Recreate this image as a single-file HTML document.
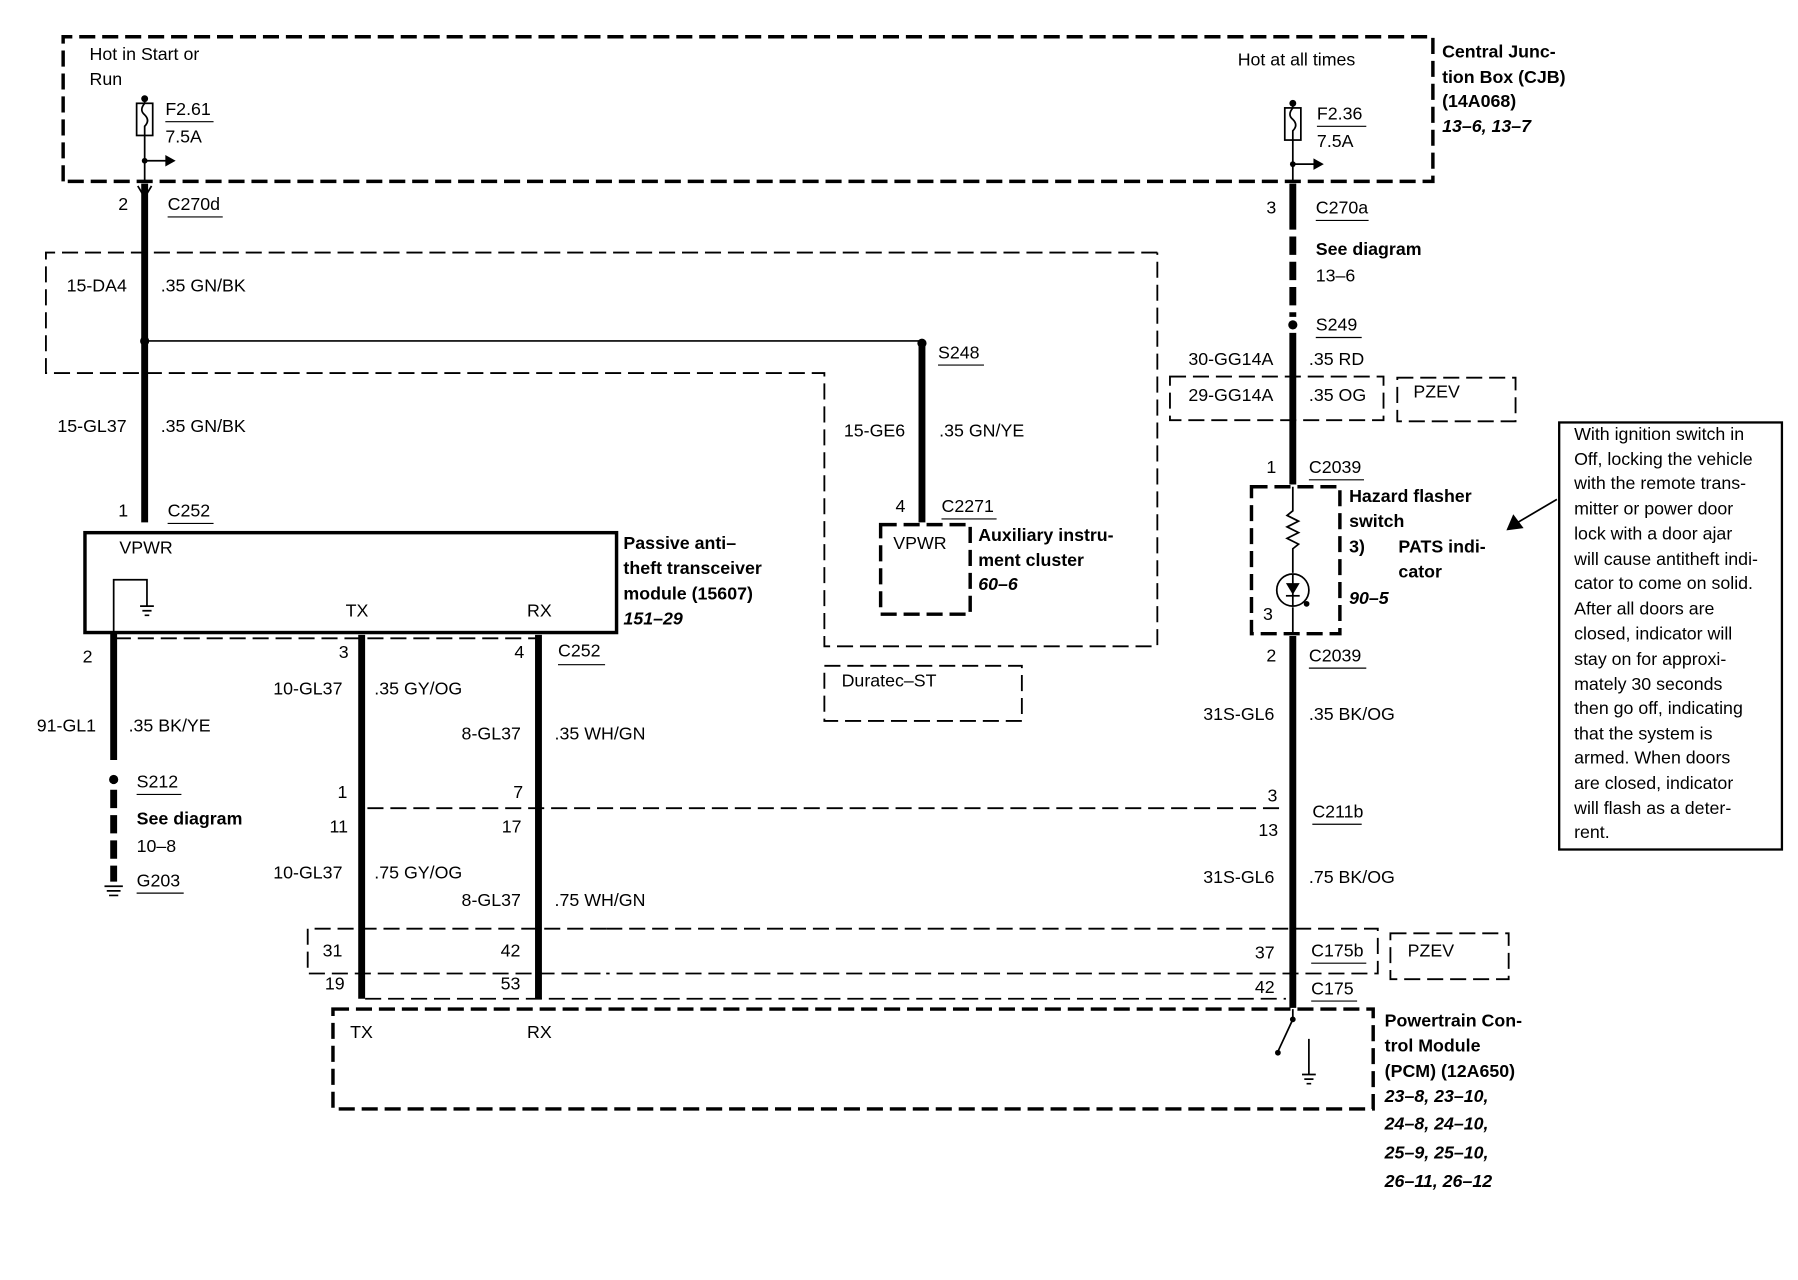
<!DOCTYPE html>
<html><head><meta charset="utf-8"><style>
html,body{margin:0;padding:0;background:#fff}
svg{display:block}
text{font-family:"Liberation Sans",Arial,sans-serif;font-size:15.5px;fill:#000;dominant-baseline:middle}
.b{font-weight:bold}
.bi{font-weight:bold;font-style:italic}
.d{fill:none;stroke:#000;stroke-width:1.6;stroke-dasharray:14 6}
.dt{fill:none;stroke:#000;stroke-width:3;stroke-dasharray:14 6}
.w{stroke:#000;stroke-width:6;fill:none}
.wd{stroke:#000;stroke-width:6;fill:none;stroke-dasharray:16 6}
.t{stroke:#000;stroke-width:1.5;fill:none}
.u{stroke:#000;stroke-width:1}
</style></head><body>
<svg width="1798" height="1280" viewBox="0 0 1566 1115" preserveAspectRatio="none" xmlns="http://www.w3.org/2000/svg">
<rect width="1566" height="1115" fill="#fff"/>
<path class="dt" d="M55 158 V32 H1248 V158 H55"/>
<text x="78" y="48">Hot in Start or</text><text x="78" y="70">Run</text>
<circle cx="126" cy="86" r="3"/>
<line class="t" x1="126" y1="86" x2="126" y2="158"/>
<rect x="119" y="90" width="14" height="28" fill="#fff" stroke="#000" stroke-width="1.5"/>
<path class="t" d="M126 90 q-5 6 0 10 q5 5 0 10 v8"/>
<text x="144" y="96">F2.61</text><line class="u" x1="144" y1="106" x2="186" y2="106"/><text x="144" y="120">7.5A</text>
<line class="t" x1="126" y1="140" x2="145" y2="140"/><path d="M144 135 L153 140 L144 145Z"/><circle cx="126" cy="140" r="2.5"/>
<text x="1078" y="53">Hot at all times</text>
<circle cx="1126" cy="90" r="3"/>
<line class="t" x1="1126" y1="90" x2="1126" y2="158"/>
<rect x="1119" y="94" width="14" height="28" fill="#fff" stroke="#000" stroke-width="1.5"/>
<path class="t" d="M1126 94 q-5 6 0 10 q5 5 0 10 v8"/>
<text x="1147" y="100">F2.36</text><line class="u" x1="1147" y1="110" x2="1190" y2="110"/><text x="1147" y="124">7.5A</text>
<line class="t" x1="1126" y1="143" x2="1145" y2="143"/><path d="M1144 138 L1153 143 L1144 148Z"/><circle cx="1126" cy="143" r="2.5"/>
<text x="1256" y="46" class="b">Central Junc-</text><text x="1256" y="68" class="b">tion Box (CJB)</text><text x="1256" y="89" class="b">(14A068)</text><text x="1256" y="111" class="bi">13–6, 13–7</text>
<line class="w" x1="126" y1="160" x2="126" y2="455"/>
<path d="M120 162 L126 172 L132 162" class="t"/>
<text x="103" y="179">2</text><text x="146" y="179">C270d</text><line class="u" x1="146" y1="189" x2="194" y2="189"/>
<path class="d" d="M1008 220 H40 V325 H718 V563 H1008 V220"/>
<text x="58" y="250">15-DA4</text><text x="140" y="250">.35 GN/BK</text>
<circle cx="126" cy="297" r="4"/>
<line class="t" x1="126" y1="297" x2="803" y2="297"/>
<circle cx="803" cy="299" r="4"/>
<line class="w" x1="803" y1="299" x2="803" y2="455"/>
<text x="817" y="308">S248</text><line class="u" x1="817" y1="318" x2="857" y2="318"/>
<text x="50" y="372">15-GL37</text><text x="140" y="372">.35 GN/BK</text>
<text x="735" y="376">15-GE6</text><text x="818" y="376">.35 GN/YE</text>
<text x="780" y="442">4</text><text x="820" y="442">C2271</text><line class="u" x1="820" y1="452" x2="868" y2="452"/>
<path class="dt" d="M767 457 H845 V535 H767 Z"/>
<text x="778" y="474">VPWR</text>
<text x="852" y="467" class="b">Auxiliary instru-</text><text x="852" y="489" class="b">ment cluster</text><text x="852" y="510" class="bi">60–6</text>
<text x="103" y="446">1</text><text x="146" y="446">C252</text><line class="u" x1="146" y1="456" x2="186" y2="456"/>
<rect x="74" y="464" width="463" height="87" fill="none" stroke="#000" stroke-width="3"/>
<text x="104" y="478">VPWR</text><text x="301" y="533">TX</text><text x="459" y="533">RX</text>
<path class="t" d="M99 556 V505 H128 V528"/>
<path class="t" d="M122 528 H134 M124 532 H132 M126 536 H130"/>
<text x="543" y="474" class="b">Passive anti–</text><text x="543" y="496" class="b">theft transceiver</text><text x="543" y="518" class="b">module (15607)</text><text x="543" y="540" class="bi">151–29</text>
<path class="d" d="M100 556 H470"/>
<line class="w" x1="99" y1="551" x2="99" y2="662"/>
<circle cx="99" cy="679" r="4"/>
<line class="wd" x1="99" y1="688" x2="99" y2="768"/>
<path class="t" d="M91 772 H107 M93 776 H105 M95 780 H103"/>
<text x="72" y="573">2</text><text x="32" y="633">91-GL1</text><text x="112" y="633">.35 BK/YE</text>
<text x="119" y="682">S212</text><line class="u" x1="119" y1="692" x2="158" y2="692"/>
<text x="119" y="714" class="b">See diagram</text><text x="119" y="738">10–8</text>
<text x="119" y="768">G203</text><line class="u" x1="119" y1="778" x2="160" y2="778"/>
<line class="w" x1="315" y1="553" x2="315" y2="870"/>
<line class="w" x1="469" y1="553" x2="469" y2="870"/>
<text x="295" y="569">3</text><text x="448" y="569">4</text><text x="486" y="568">C252</text><line class="u" x1="486" y1="579" x2="527" y2="579"/>
<text x="238" y="601">10-GL37</text><text x="326" y="601">.35 GY/OG</text>
<text x="402" y="640">8-GL37</text><text x="483" y="640">.35 WH/GN</text>
<text x="294" y="691">1</text><text x="447" y="691">7</text>
<path class="d" d="M320 704 H1120"/>
<text x="287" y="721">11</text><text x="437" y="721">17</text>
<text x="238" y="761">10-GL37</text><text x="326" y="761">.75 GY/OG</text>
<text x="402" y="785">8-GL37</text><text x="483" y="785">.75 WH/GN</text>
<path class="d" d="M528 809 H1200 V848 H528"/>
<path class="d" d="M528 809 H268 V848 H528"/>
<text x="281" y="829">31</text><text x="436" y="829">42</text>
<text x="1093" y="831">37</text><text x="1142" y="829">C175b</text><line class="u" x1="1142" y1="839" x2="1190" y2="839"/>
<path class="d" d="M1211 813 H1314 V853 H1211 Z"/><text x="1226" y="829">PZEV</text>
<path class="d" d="M318 870 H1120"/>
<text x="283" y="858">19</text><text x="436" y="858">53</text>
<text x="1093" y="861">42</text><text x="1142" y="862">C175</text><line class="u" x1="1142" y1="872" x2="1182" y2="872"/>
<path class="dt" d="M290 879 H1196 V966 H290 Z"/>
<text x="305" y="900">TX</text><text x="459" y="900">RX</text>
<path class="t" d="M1126 879 V888 L1113 916"/><circle cx="1126" cy="888" r="2.5"/><circle cx="1113" cy="917" r="2.5"/>
<path class="t" d="M1140 905 V936 M1134 936 H1146 M1136 940 H1144 M1138 944 H1142"/>
<text x="1206" y="890" class="b">Powertrain Con-</text><text x="1206" y="912" class="b">trol Module</text><text x="1206" y="934" class="b">(PCM) (12A650)</text>
<text x="1206" y="956" class="bi">23–8, 23–10,</text><text x="1206" y="980" class="bi">24–8, 24–10,</text><text x="1206" y="1005" class="bi">25–9, 25–10,</text><text x="1206" y="1030" class="bi">26–11, 26–12</text>
<line class="w" x1="1126" y1="160" x2="1126" y2="200"/>
<line class="wd" x1="1126" y1="206" x2="1126" y2="276"/>
<circle cx="1126" cy="283" r="4"/>
<line class="w" x1="1126" y1="290" x2="1126" y2="422"/>
<text x="1103" y="182">3</text><text x="1146" y="182">C270a</text><line class="u" x1="1146" y1="192" x2="1192" y2="192"/>
<text x="1146" y="218" class="b">See diagram</text><text x="1146" y="241">13–6</text>
<text x="1146" y="284">S249</text><line class="u" x1="1146" y1="294" x2="1186" y2="294"/>
<text x="1035" y="314">30-GG14A</text><text x="1140" y="314">.35 RD</text>
<path class="d" d="M1019 328 H1205 V366 H1019 Z"/>
<text x="1035" y="345">29-GG14A</text><text x="1140" y="345">.35 OG</text>
<path class="d" d="M1217 329 H1320 V367 H1217 Z"/><text x="1231" y="342">PZEV</text>
<text x="1103" y="408">1</text><text x="1140" y="408">C2039</text><line class="u" x1="1140" y1="418" x2="1188" y2="418"/>
<path class="dt" d="M1090 424 H1167 V552 H1090 Z"/>
<path class="t" d="M1126 424 V445 l-5 4 l10 5 l-10 5 l10 5 l-10 5 l10 5 l-5 4 V499 M1126 529 V552"/>
<circle cx="1126" cy="514" r="14" fill="none" stroke="#000" stroke-width="1.5"/>
<path d="M1120 508 H1132 L1126 518 Z"/><line class="t" x1="1120" y1="519" x2="1132" y2="519"/><line class="t" x1="1126" y1="500" x2="1126" y2="528"/>
<circle cx="1138" cy="526" r="2.5"/>
<text x="1100" y="536">3</text>
<text x="1175" y="433" class="b">Hazard flasher</text><text x="1175" y="455" class="b">switch</text><text x="1175" y="477" class="b">3)</text><text x="1218" y="477" class="b">PATS indi-</text><text x="1218" y="499" class="b">cator</text><text x="1175" y="522" class="bi">90–5</text>
<line class="w" x1="1126" y1="554" x2="1126" y2="878"/>
<text x="1103" y="572">2</text><text x="1140" y="572">C2039</text><line class="u" x1="1140" y1="582" x2="1190" y2="582"/>
<text x="1048" y="623">31S-GL6</text><text x="1140" y="623">.35 BK/OG</text>
<text x="1104" y="694">3</text><text x="1143" y="708">C211b</text><line class="u" x1="1143" y1="718" x2="1186" y2="718"/>
<text x="1096" y="724">13</text>
<text x="1048" y="765">31S-GL6</text><text x="1140" y="765">.75 BK/OG</text>
<path class="d" d="M718 580 H890 V628 H718 Z"/><text x="733" y="594">Duratec–ST</text>
<rect x="1358" y="368" width="194" height="372" fill="none" stroke="#000" stroke-width="2"/>
<g>
<text x="1371" y="379">With ignition switch in</text>
<text x="1371" y="401">Off, locking the vehicle</text>
<text x="1371" y="422">with the remote trans-</text>
<text x="1371" y="444">mitter or power door</text>
<text x="1371" y="466">lock with a door ajar</text>
<text x="1371" y="488">will cause antitheft indi-</text>
<text x="1371" y="509">cator to come on solid.</text>
<text x="1371" y="531">After all doors are</text>
<text x="1371" y="553">closed, indicator will</text>
<text x="1371" y="575">stay on for approxi-</text>
<text x="1371" y="597">mately 30 seconds</text>
<text x="1371" y="618">then go off, indicating</text>
<text x="1371" y="640">that the system is</text>
<text x="1371" y="661">armed. When doors</text>
<text x="1371" y="683">are closed, indicator</text>
<text x="1371" y="705">will flash as a deter-</text>
<text x="1371" y="726">rent.</text>
</g>
<line class="t" x1="1356" y1="435" x2="1322" y2="455"/>
<path d="M1312 462 L1318 448 L1327 460 Z"/>
</svg>
</body></html>
